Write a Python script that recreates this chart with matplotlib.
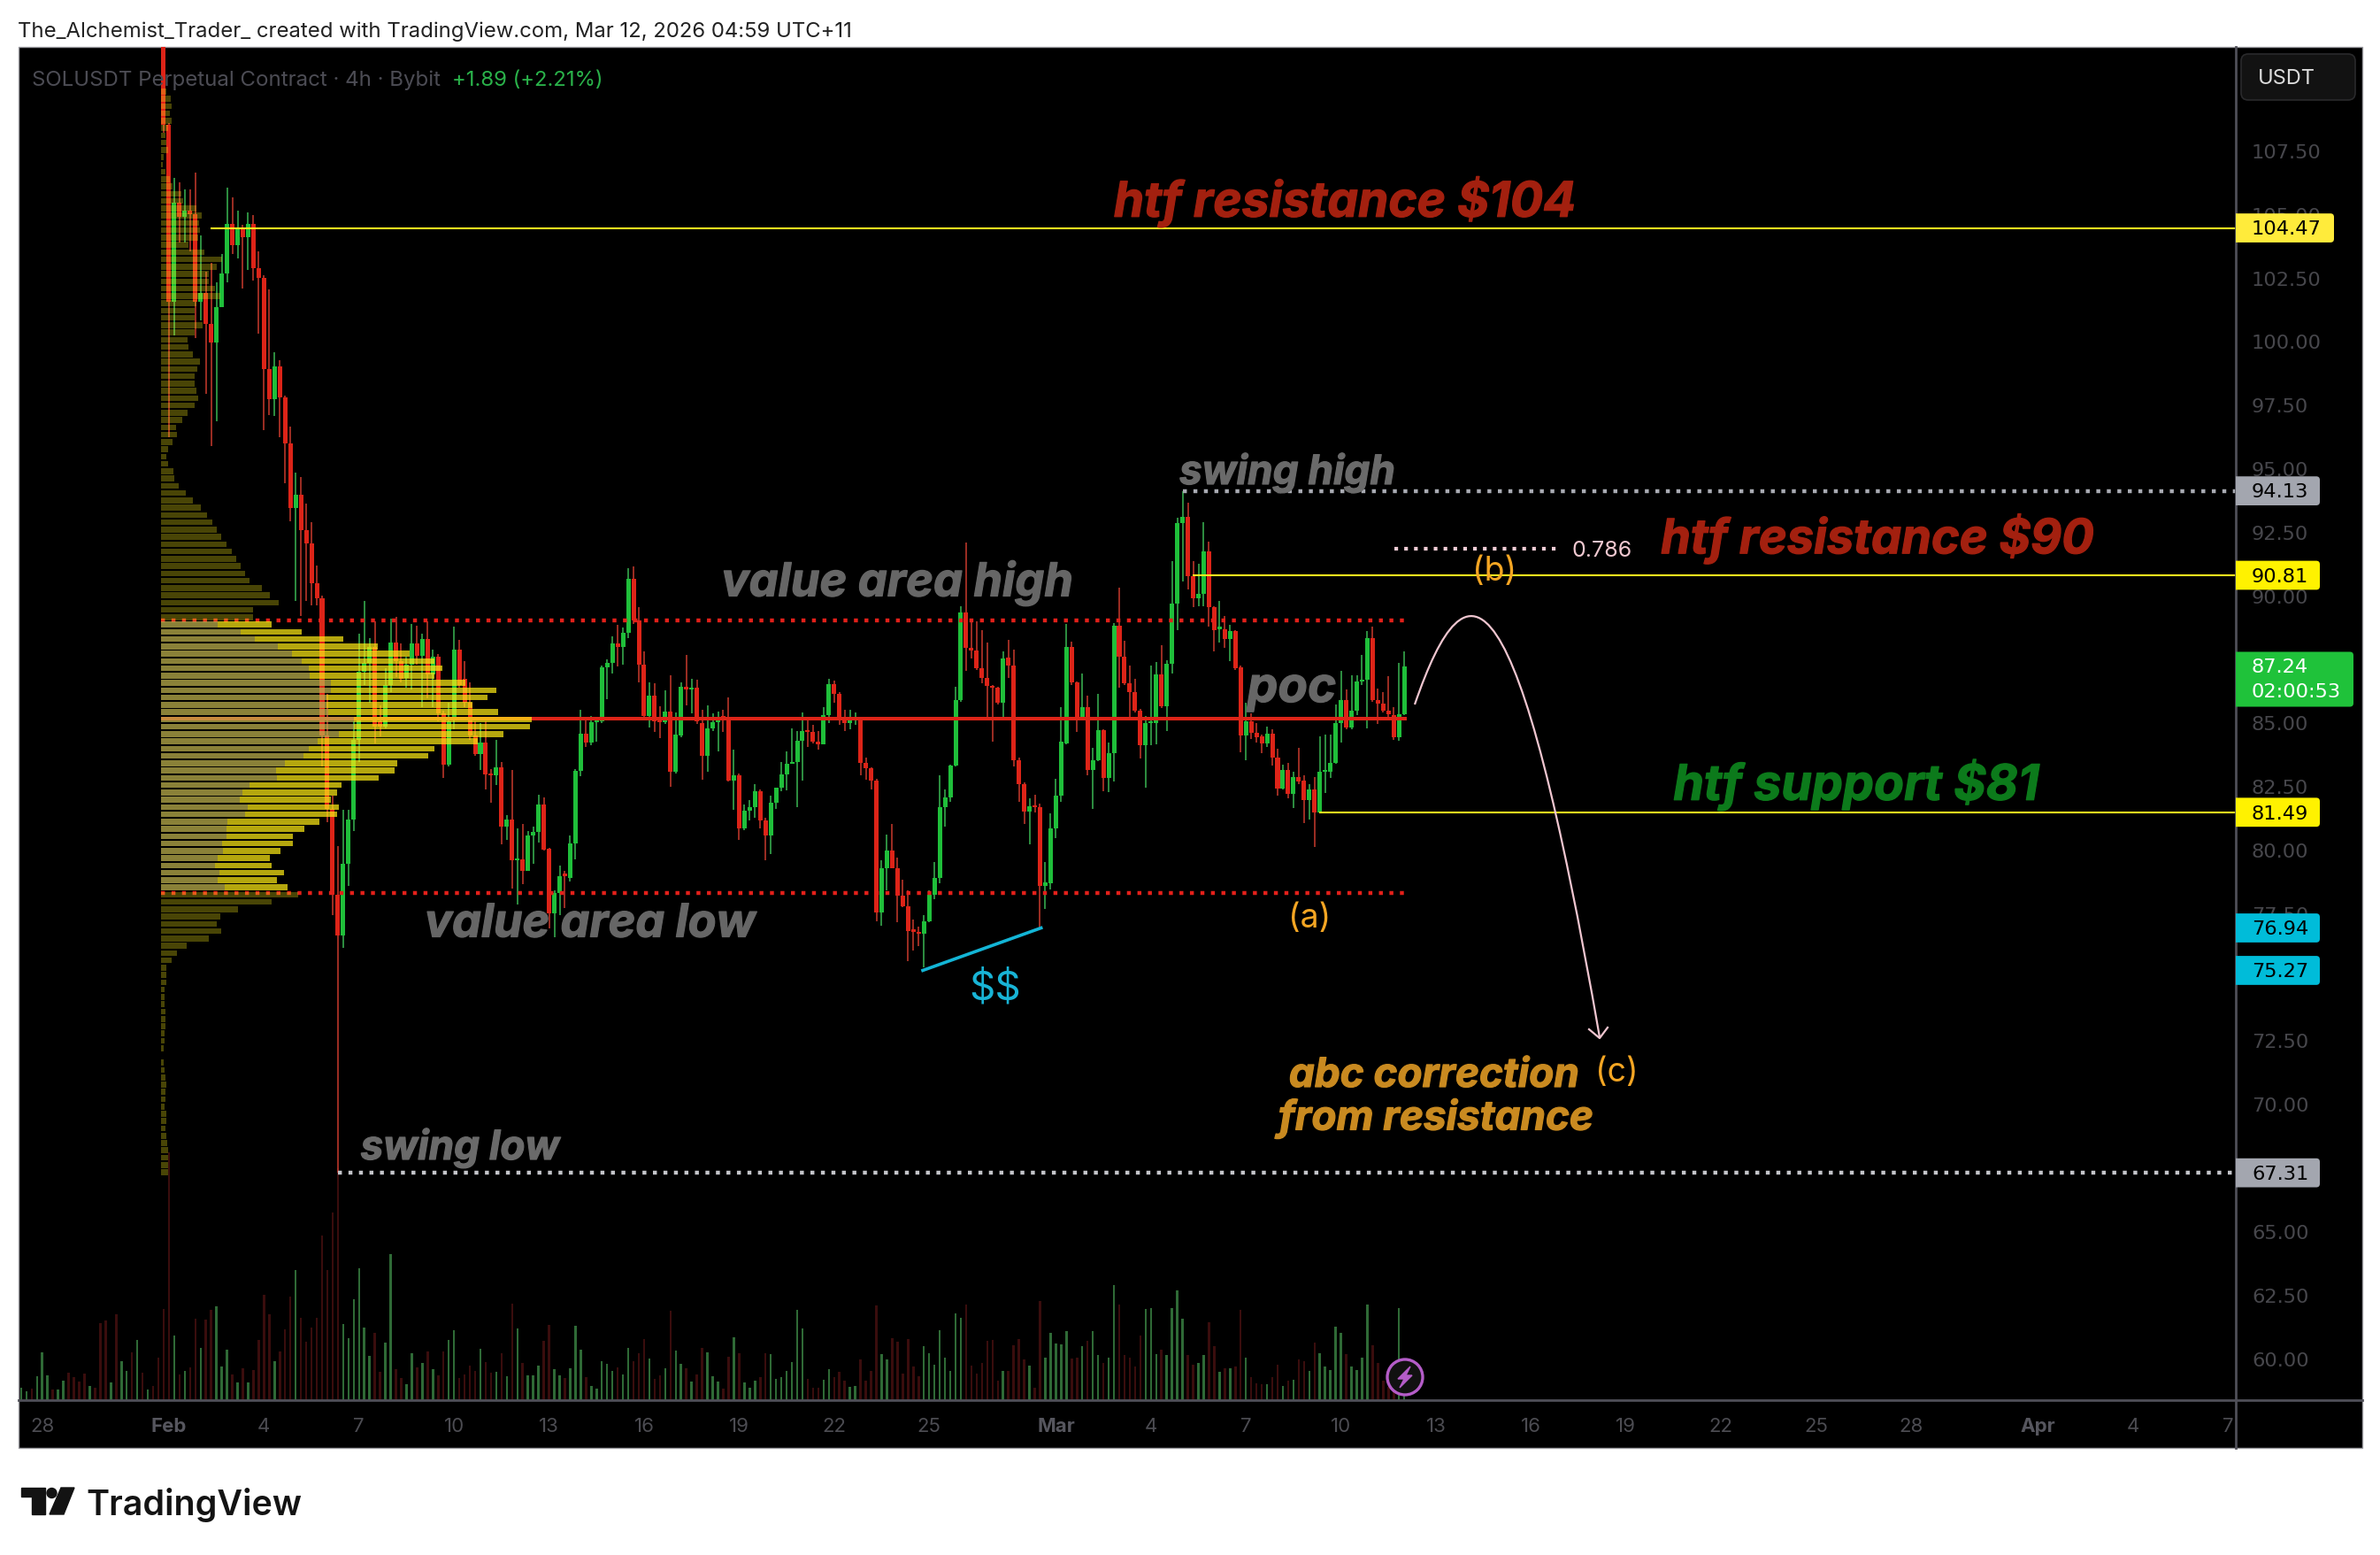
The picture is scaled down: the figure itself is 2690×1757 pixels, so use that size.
import numpy as np
import matplotlib
matplotlib.use('Agg')
import matplotlib.pyplot as plt
import matplotlib.patheffects as pe
from matplotlib.patches import Rectangle, Circle, Polygon, PathPatch, FancyBboxPatch
from matplotlib.path import Path

plt.rcParams['font.family'] = ['Inter', 'DejaVu Sans']

# 4h candles
opens = [112.5,108.54,101.58,105.47,104.89,105.14,105.0,101.58,101.91,100.71,
    99.96,101.35,102.68,104.63,103.78,104.42,104.1,104.63,102.89,102.49,
    98.91,97.75,99.03,97.81,95.99,93.46,93.98,92.59,92.06,90.5,
    89.91,84.52,81.62,78.26,76.64,79.48,81.22,84.35,87.02,87.37,
    88.0,85.05,84.87,86.5,88.18,87.43,86.78,87.31,88.12,87.66,
    88.32,86.9,87.6,85.39,83.36,85.22,87.89,86.73,85.8,84.52,
    83.77,84.23,83.0,82.93,83.25,80.93,81.22,79.6,79.65,79.19,
    80.58,80.7,81.8,80.05,77.53,78.32,79.02,78.9,80.27,83.13,
    84.58,84.23,85.02,85.08,87.19,87.37,88.12,87.98,88.55,90.68,
    89.03,87.31,85.28,86.09,85.14,85.02,85.45,83.1,84.52,86.42,
    86.32,86.38,84.99,83.71,84.78,85.02,85.28,85.19,82.75,82.96,
    80.84,81.54,81.68,82.32,81.16,80.58,81.86,82.44,82.98,83.4,
    83.48,84.29,84.7,84.64,84.26,84.15,85.31,86.53,86.15,85.22,
    84.99,85.14,85.2,83.42,83.21,82.73,77.56,79.3,79.97,79.3,
    78.2,77.8,76.83,76.8,76.7,77.2,78.26,78.9,81.68,82.09,
    83.33,85.89,89.34,87.97,87.85,87.16,86.76,86.47,86.38,85.8,
    87.56,87.25,83.52,82.61,81.51,81.74,81.7,78.6,78.68,80.85,
    82.15,84.2,88.0,86.59,85.16,85.63,83.17,83.52,84.72,82.84,
    83.8,88.82,87.6,86.58,86.21,85.49,84.14,84.99,84.99,86.9,
    85.65,87.33,89.7,92.87,93.1,90.78,89.91,90.09,91.75,89.54,
    88.7,88.7,88.31,88.61,87.19,84.52,85.06,84.6,84.46,84.19,
    84.58,83.65,82.43,83.15,82.2,82.86,82.72,81.97,82.37,81.49,
    83.07,83.07,83.44,84.98,85.89,84.83,85.47,86.63,86.72,88.35,
    85.91,85.77,85.5,85.3,84.44,85.33]
closes = [108.54,101.58,105.47,104.89,105.14,105.0,101.58,101.91,100.71,99.96,
    101.35,102.68,104.63,103.78,104.42,104.1,104.63,102.89,102.49,98.91,
    97.75,99.03,97.81,95.99,93.46,93.98,92.59,92.06,90.5,89.91,
    84.51,81.62,78.26,76.64,79.48,81.22,84.35,87.02,87.37,88.0,
    84.87,84.87,86.5,88.18,87.43,86.73,87.31,88.12,87.66,88.32,
    86.9,87.6,85.39,83.36,85.05,87.89,86.5,85.8,84.52,83.77,
    84.23,82.98,82.93,83.25,80.93,81.22,79.59,79.65,79.19,80.58,
    80.72,81.8,80.03,77.53,78.32,78.99,78.99,80.27,83.13,84.58,
    84.23,85.02,85.08,87.19,87.37,88.12,87.98,88.55,90.68,89.05,
    87.31,85.28,86.09,85.05,85.02,85.45,83.1,84.56,86.42,86.32,
    86.38,85.05,83.71,84.78,85.02,85.19,85.19,82.75,82.94,80.84,
    81.54,81.68,82.32,81.16,80.58,81.86,82.44,82.98,83.4,83.48,
    84.29,84.7,84.64,84.26,84.15,85.31,86.53,86.15,85.22,84.99,
    85.14,85.18,83.42,83.21,82.73,77.56,79.3,79.97,79.3,78.2,
    77.8,76.81,76.8,76.72,77.2,78.26,78.9,81.68,82.09,83.33,
    85.89,89.34,87.97,87.85,87.16,86.76,86.47,86.38,85.8,87.54,
    87.25,83.52,82.61,81.51,81.74,81.68,78.6,78.72,80.85,82.15,
    84.26,88.0,86.59,85.16,85.63,83.17,83.54,84.72,82.84,83.83,
    88.82,87.6,86.58,86.21,85.49,84.14,84.99,85.03,86.9,85.65,
    87.33,89.71,92.87,93.1,90.78,89.91,90.09,91.75,89.54,88.64,
    88.75,88.31,88.61,87.15,84.52,85.06,84.6,84.44,84.19,84.58,
    83.65,82.43,83.15,82.2,82.86,82.7,81.97,82.37,81.48,83.07,
    83.1,83.44,84.98,85.89,84.83,85.47,86.63,86.72,88.35,85.91,
    85.77,85.5,85.33,84.44,85.33,87.24]
highs = [116,108.6,106.45,106.28,105.99,105.99,106.63,104.19,102.74,103.09,
    102.33,103.43,106.05,105.67,105.14,104.6,105.08,104.98,103.55,102.6,
    102.05,99.57,99.26,97.87,96.65,94.85,94.67,93.63,92.9,91.2,
    90.0,86.15,82.15,80.17,81.57,81.57,85.05,88.53,89.8,88.35,
    88.99,85.68,87.14,89.11,89.17,88.12,87.6,88.88,88.82,88.53,
    88.99,87.89,87.7,85.49,85.8,88.78,88.26,87.43,86.61,85.05,
    84.99,85.05,83.2,84.32,83.48,81.39,83.17,80.87,81.04,80.75,
    80.93,82.17,82.09,80.1,78.43,79.39,79.19,80.58,83.2,85.53,
    85.16,85.28,85.2,87.25,87.5,88.41,88.85,88.76,91.1,91.15,
    89.57,87.83,86.61,86.55,85.65,86.27,86.88,85.4,86.61,87.68,
    86.73,86.69,85.51,85.68,85.39,85.45,85.51,86.0,83.94,83.0,
    81.8,81.97,82.61,82.38,81.28,82.15,82.47,83.48,83.89,84.79,
    84.7,85.42,85.1,84.93,84.7,85.63,86.73,86.67,86.2,85.51,
    85.51,85.4,85.24,83.65,83.25,82.8,79.59,80.6,81.02,79.71,
    78.84,78.43,77.27,76.98,77.45,78.43,79.54,82.96,82.38,83.36,
    86.44,89.6,92.1,89.11,88.99,88.64,88.18,86.5,86.44,87.83,
    88.26,87.87,83.65,82.65,82.03,82.17,81.82,79.54,81.45,82.82,
    85.63,88.91,88.21,86.65,86.93,86.07,84.03,86.15,84.75,84.23,
    88.93,90.33,88.24,87.25,86.75,85.55,85.28,87.27,87.39,88.06,
    87.48,91.37,93.07,94.13,93.68,91.36,91.25,92.89,92.12,89.6,
    89.8,89.22,88.85,88.65,87.25,85.79,85.37,84.98,84.55,84.87,
    84.75,84.0,83.36,83.42,83.07,84.02,82.93,82.58,82.86,84.46,
    84.54,84.54,85.74,87.04,86.32,86.87,86.87,87.67,88.61,88.78,
    86.34,86.2,86.84,85.62,87.36,87.8]
lows = [108.2,96.24,100.25,103.9,103.9,103.55,100.13,100.83,97.93,95.9,
    96.88,101.35,102.33,103.43,103.26,102.1,102.83,102.39,100.31,96.53,
    97.11,97.09,96.24,94.44,92.93,89.8,89.21,89.8,89.63,89.63,
    83.29,81.1,77.45,67.31,76.17,78.61,80.75,83.48,86.5,85.8,
    84.18,84.47,84.8,86.2,86.79,86.61,86.38,86.32,87.31,85.63,
    85.98,85.63,85.05,82.84,83.3,84.76,86.4,85.63,84.35,83.71,
    83.17,82.38,81.86,82.55,80.23,80.41,78.49,77.85,78.67,79.19,
    79.48,80.29,80.0,76.93,76.58,77.45,77.74,78.78,79.65,82.9,
    84.06,84.14,84.26,85.0,85.95,86.96,87.23,87.29,88.35,88.9,
    86.61,85.2,84.81,84.64,84.41,84.95,82.49,83.02,84.45,85.68,
    85.39,84.95,82.78,83.07,84.7,83.89,84.64,82.7,81.57,80.41,
    80.8,81.16,81.28,80.87,79.59,79.85,81.62,82.32,82.35,83.4,
    81.68,82.73,84.06,84.18,83.94,84.15,84.99,85.8,84.93,84.68,
    84.76,84.93,82.96,82.78,82.4,77.2,77.04,78.43,79.3,77.18,
    77.75,75.65,76.05,76.23,75.4,77.15,78.06,78.69,80.93,81.91,
    83.3,85.85,87.04,87.54,87.1,86.55,85.22,84.26,85.74,85.22,
    86.76,83.28,81.89,81.04,80.23,81.47,76.94,77.68,78.46,80.46,
    81.91,84.15,86.5,84.64,85.1,82.96,81.62,83.5,82.32,82.29,
    82.7,86.4,86.5,85.22,85.4,83.6,82.44,84.12,84.15,85.6,
    84.7,86.96,88.66,90.55,90.26,89.54,89.6,89.6,88.78,87.82,
    88.17,87.96,87.42,87.07,83.86,83.53,84.37,84.23,83.82,84.05,
    83.32,82.16,82.4,82.05,81.65,82.6,81.07,81.21,80.11,81.45,
    82.26,82.84,83.4,84.23,84.75,84.75,85.3,86.5,84.78,85.85,
    84.95,85.4,85.25,84.32,84.29,85.3]

# volume bars, arbitrary units. the earlier ones have no candle on screen
pre_volumes = [14,10,13,27,54,28,12,12,22,31,26,21,30,16,14,87,90,20,97,44,33,54,68,31,12,16,48]
pre_up = [1,1,0,1,1,1,0,1,1,0,0,0,0,1,0,0,0,1,0,1,1,0,1,0,1,0,0]
volumes = [103,280,73,29,33,37,92,59,91,102,106,38,57,29,20,36,20,34,68,119,
    97,44,55,80,117,147,93,66,82,93,186,147,212,262,86,70,114,149,82,50,
    76,32,65,165,35,25,18,53,37,42,55,35,28,55,68,79,25,29,39,33,
    58,43,31,32,53,27,109,81,42,28,28,39,67,85,35,28,25,36,84,57,
    26,16,13,44,41,33,37,29,59,44,53,69,47,24,28,36,101,56,41,36,
    21,29,59,54,27,21,13,49,71,53,20,14,22,26,53,52,24,26,33,43,
    102,81,24,14,14,23,35,26,32,22,15,16,46,22,33,107,52,46,70,66,
    30,69,38,27,61,53,40,79,48,33,98,93,108,39,30,42,67,68,22,33,
    33,62,69,46,39,14,112,48,76,64,63,78,47,48,61,67,78,51,42,48,
    130,108,51,48,38,73,103,104,52,57,51,104,124,92,51,40,42,51,88,61,
    32,36,36,38,102,48,26,19,18,18,26,40,16,22,23,46,44,33,65,53,
    38,34,83,76,52,38,34,48,108,62,42,22,15,15,104,8]

# volume profile rows top to bottom, arbitrary units
prof_above = [6,11,12,10,12,8,5,6,8,3,2,5,10,13,23,25,40,46,43,44,42,31,49,69,63,54,54,61,67,
    40,38,38,47,38,30,31,36,44,41,38,38,40,42,38,30,24,17,18,13,8,6,8,14,15,
    20,28,36,45,52,58,63,68,74,80,85,90,95,100,114,123,133,104,104]
prof_va_total = [125,159,206,245,281,309,318,309,344,379,369,352,381,419,417,387,358,309,302,
    267,264,246,204,199,192,201,199,179,162,149,149,135,123,125,139,131,143]
prof_va_up = [64,90,106,132,148,159,167,168,192,192,187,187,189,218,218,201,177,167,161,
    140,130,131,100,92,89,98,95,75,74,74,69,70,64,61,66,64,72]
prof_below = [155,125,87,67,63,68,54,29,18,12,6,6,6,4,4,4,5,
    5,5,4,4,3,0,3,4,5,6,5,5,4,6,6,5,6,7,8,8,8,8]
poc_price = 85.14
prof_step = 0.2872

# levels
htf_res_104 = 104.47
htf_res_90 = 90.81
htf_sup_81 = 81.49
swing_high = 94.13
swing_low = 67.31
fib_786 = 91.85
vah = 89.03
val = 78.31
poc = 85.16
liq_low = 75.27
liq_high = 76.94
last_price = 87.24

price_ticks = [107.5,105,102.5,100,97.5,95,92.5,90,87.5,85,82.5,80,77.5,75,72.5,70,67.5,65,62.5,60]
hidden_ticks = [87.5,75,67.5]
day_offsets = [-4,0,3,6,9,12,15,18,21,24,28,31,34,37,40,43,46,49,52,55,59,62,65]
day_labels = ['28','Feb','4','7','10','13','16','19','22','25','Mar','4','7','10','13','16','19','22','25','28','Apr','4','7']

W, H = 2690, 1758
L, R, T, B = 20.6, 2527, 54, 1583
ylim = (58.37, 111.59)
xlim = (-27.55, 392.5)
main_rect = [L/W, 1-B/H, (R-L)/W, (B-T)/H]

GREEN = '#1fbf3a'
RED = '#dd2418'
YELLOW = '#ffeb1e'
GRID = '#4f4f58'
SCALE_FONT = 'DejaVu Sans'

fig = plt.figure(figsize=(W/100, H/100), dpi=100, facecolor='white')

# black panel behind everything
ax_bg = fig.add_axes([0, 0, 1, 1])
ax_bg.set_xlim(0, W)
ax_bg.set_ylim(H, 0)
ax_bg.axis('off')
ax_bg.add_patch(Rectangle((L, T), 2670-L, 1637-T, facecolor='black', edgecolor='#9a9a9f', lw=1))

# volume pane, 1 unit is 1 pixel
ax_vol = fig.add_axes(main_rect)
ax_vol.set_xlim(*xlim)
ax_vol.set_ylim(0, B-T)
ax_vol.axis('off')
up = np.array(closes) >= np.array(opens)
all_vol = pre_volumes + volumes
all_up = list(np.array(pre_up, dtype=bool)) + list(up)
vol_x = np.arange(len(all_vol)) - len(pre_volumes)
ax_vol.bar(vol_x, all_vol, width=0.42, color=['#2f6a36' if u else '#3a0d0d' for u in all_up])

# candles and levels
ax = fig.add_axes(main_rect)
ax.patch.set_alpha(0)
ax.set_xlim(*xlim)
ax.set_ylim(*ylim)
for s in ax.spines.values():
    s.set_visible(False)
idx = np.arange(len(opens))
o, c = np.array(opens), np.array(closes)
ax.vlines(idx[up], np.array(lows)[up], np.array(highs)[up], color='#35a84c', lw=1.2, zorder=2)
ax.vlines(idx[~up], np.array(lows)[~up], np.array(highs)[~up], color='#b8352a', lw=1.2, zorder=2)
ax.bar(idx, np.maximum(np.abs(c-o), 0.08), bottom=np.minimum(o, c), width=0.84,
       color=[GREEN if u else RED for u in up], zorder=3)

ax.hlines(poc, (182-185)/5.967, 235.5, color=RED, lw=2.9, zorder=4)
for lvl in (vah, val):
    ax.plot([(182-185)/5.967, 235.5], [lvl, lvl], color='#e3201a', lw=3.2,
            ls=(0, (1, 1.67)), dash_capstyle='butt', zorder=4)
ax.plot([193, xlim[1]], [swing_high, swing_high], color='#a9abb3', lw=3.2, ls=(0, (1, 1.67)), zorder=4)
ax.plot([33, xlim[1]], [swing_low, swing_low], color='#c4c5ca', lw=3.2, ls=(0, (1, 1.67)), zorder=4)
ax.plot([233.1, 264], [fib_786, fib_786], color='#f2cdd6', lw=3.0, ls=(0, (1, 1.67)), zorder=4)
ax.hlines(htf_res_104, 8.9, xlim[1], color=YELLOW, lw=1.5, zorder=5)
ax.hlines(htf_res_90, 194.9, xlim[1], color=YELLOW, lw=1.5, zorder=5)
ax.hlines(htf_sup_81, 218.9, xlim[1], color=YELLOW, lw=1.5, zorder=5)
ax.plot([143.8, 166.2], [liq_low, liq_high], color='#13b5d6', lw=2.6, zorder=5)

ax.set_yticks([])
ax.set_xticks([1 + 6*d for d in day_offsets])
ax.set_xticklabels(day_labels, fontsize=16)
ax.tick_params(axis='x', length=0, pad=14, colors='#4c4c52')
for lab in ax.get_xticklabels():
    if lab.get_text() in ('Feb', 'Mar', 'Apr'):
        lab.set_fontweight('bold')
        lab.set_color('#56565e')

# volume profile on top of the candles, 1 unit is 1 pixel
ax_prof = fig.add_axes(main_rect)
ax_prof.patch.set_alpha(0)
ax_prof.set_xlim(L-182, R-182)
ax_prof.set_ylim(*ylim)
ax_prof.axis('off')
n_above, n_va = len(prof_above), len(prof_va_total)
poc_row = n_above + 13
rows = np.arange(n_above + n_va + len(prof_below))
row_price = poc_price + (poc_row - rows)*prof_step
outside = np.array(prof_above + [0]*n_va + prof_below)
va_total = np.array([0]*n_above + prof_va_total + [0]*len(prof_below))
va_up = np.array([0]*n_above + prof_va_up + [0]*len(prof_below))
h = prof_step*0.8
ax_prof.barh(row_price, outside, height=h, color='#f5e617', alpha=0.3)
ax_prof.barh(row_price, va_up, height=h, color='#c1b44e', alpha=0.72)
ax_prof.barh(row_price, va_total-va_up, left=va_up, height=h, color='#fce914', alpha=0.72)

# overlay in image pixels for texts and chrome
ov = fig.add_axes([0, 0, 1, 1])
ov.patch.set_alpha(0)
ov.set_xlim(0, W)
ov.set_ylim(H, 0)
ov.axis('off')
ov.plot([R, R], [T, 1637], color=GRID, lw=2)
ov.plot([L, 2670], [B, B], color=GRID, lw=2)

ov.text(20, 36, 'The_Alchemist_Trader_ created with TradingView.com, Mar 12, 2026 04:59 UTC+11',
        fontsize=17.2, color='#222222', va='center')
ov.text(36, 91, 'SOLUSDT Perpetual Contract · 4h · Bybit', fontsize=17.3, color='#4c4c54', va='center')
ov.text(511, 91, '+1.89 (+2.21%)', fontsize=17.2, color='#2ab24a', va='center')


def note(x, y, s, color, size):
    ov.text(x, y+3, s, color=color, fontsize=size, fontweight='bold', fontstyle='italic',
            ha='center', va='center', parse_math=False,
            path_effects=[pe.withStroke(linewidth=0.9, foreground=color)])


note(1520, 226, 'htf resistance $104', '#a3200f', 39.6)
note(2122, 607, 'htf resistance $90', '#a3200f', 39)
note(2098, 885, 'htf support $81', '#0c7a1b', 40)
note(1455, 532, 'swing high', '#6a6a6a', 33)
note(1014, 657, 'value area high', '#666666', 37.7)
note(667, 1043, 'value area low', '#666666', 37.5)
note(1460, 777, 'poc', '#666666', 39.5)
note(520, 1295, 'swing low', '#6a6a6a', 33)
note(1621, 1214, 'abc correction', '#c98a20', 33)
note(1623, 1262, 'from resistance', '#c98a20', 33)
for x, y, s in [(1480, 1037, '(a)'), (1689, 645, '(b)'), (1827, 1211, '(c)')]:
    ov.text(x, y+1, s, color='#f5a623', fontsize=27, ha='center', va='center')
ov.text(1125, 1117, '$$', color='#18b4d6', fontsize=33, ha='center', va='center', parse_math=False)
ov.text(1811, 623, '0.786', color='#f0c8d0', fontsize=18, ha='center', va='center')

# forecast curve and its arrow head
curve = Path([(1599, 797), (1660, 620), (1715, 640), (1808, 1173)],
             [Path.MOVETO, Path.CURVE4, Path.CURVE4, Path.CURVE4])
ov.add_patch(PathPatch(curve, facecolor='none', edgecolor='#f0c6d0', lw=1.6))
ov.plot([1796, 1808, 1817], [1164, 1174, 1162], color='#f0c6d0', lw=1.6)

# lightning badge
ov.add_patch(Circle((1588, 1557), 20, facecolor='#111111', edgecolor='#b45cc8', lw=2.4))
ov.add_patch(Polygon([(1594, 1545), (1580, 1559), (1587, 1559), (1582, 1569), (1596, 1555), (1589, 1555)],
                     color='#b45cc8'))

# TradingView logo
ov.add_patch(Polygon([(24, 1682), (50.5, 1682), (50.5, 1712), (35.6, 1712), (35.6, 1692), (24, 1692)], color='#131313'))
ov.add_patch(Circle((58.5, 1688), 5.5, color='#131313'))
ov.add_patch(Polygon([(69, 1682), (84, 1682), (72, 1712), (56, 1712)], color='#131313'))
ov.text(97, 1701, 'TradingView', fontsize=28.4, fontweight='semibold', color='#131313', va='center')

# price scale
ax_r = fig.add_axes([R/W, 1-B/H, (2670-R)/W, (B-T)/H])
ax_r.patch.set_alpha(0)
ax_r.set_xlim(0, 2670-R)
ax_r.set_ylim(*ylim)
ax_r.axis('off')
for p in price_ticks:
    if p in hidden_ticks:
        continue
    ax_r.text(18, p-0.05, '%.2f' % p, fontsize=16.2, family=SCALE_FONT, color='#47474c', va='center', zorder=2)


def tag(price, text, color, right, tcolor='black'):
    ax_r.add_patch(FancyBboxPatch((-6, price-0.57), right+6, 1.14, boxstyle='round,pad=0,rounding_size=4',
                                  mutation_aspect=1/28.73, facecolor=color, edgecolor='none', zorder=5))
    ax_r.text(18, price-0.03, text, fontsize=16.2, family=SCALE_FONT, color=tcolor, va='center', zorder=6)


tag(htf_res_104, '%.2f' % htf_res_104, '#ffeb3b', 111)
tag(swing_high, '%.2f' % swing_high, '#a3a6af', 95)
tag(htf_res_90, '%.2f' % htf_res_90, '#fff200', 95)
tag(htf_sup_81, '%.2f' % htf_sup_81, '#fff200', 95)
tag(liq_high, '%.2f' % liq_high, '#00bcd9', 95)
tag(liq_low, '%.2f' % liq_low, '#00bcd9', 95)
tag(swing_low, '%.2f' % swing_low, '#a3a6af', 95)

ax_r.add_patch(FancyBboxPatch((-6, last_price-1.6), 139, 2.16, boxstyle='round,pad=0,rounding_size=4',
                              mutation_aspect=1/28.73, facecolor='#1fc23a', edgecolor='none', zorder=5))
ax_r.text(18, last_price-0.03, '%.2f' % last_price, fontsize=16.2, family=SCALE_FONT, color='white', va='center', zorder=6)
ax_r.text(18, last_price-0.98, '02:00:53', fontsize=16.2, family=SCALE_FONT, color='white', va='center', zorder=6)

ov.add_patch(FancyBboxPatch((2533, 62), 129, 52, boxstyle='round,pad=0,rounding_size=8',
                            facecolor='#121212', edgecolor='#2a2a2c', lw=1.2))
ov.text(2584, 89, 'USDT', fontsize=17, color='#dcdcdc', ha='center', va='center')

fig.savefig('out.png', dpi=100)
